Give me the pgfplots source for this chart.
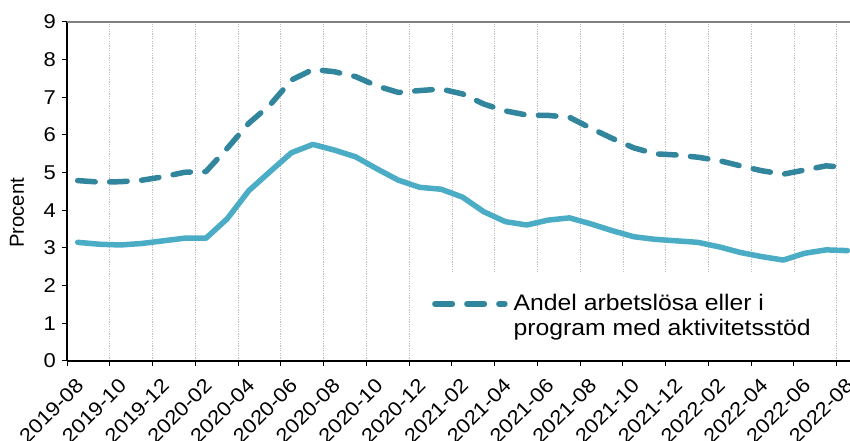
\documentclass[border=0pt]{standalone}
\usepackage{pgfplots}
\pgfplotsset{compat=1.18}
\usepackage{pgfplotstable}
\usepackage{fontspec}
\setmainfont{Liberation Sans}[FakeStretch=1.1]
\newfontfamily\plainfont{Liberation Sans}
\definecolor{lightblue}{HTML}{4BACC6}
\definecolor{darkteal}{HTML}{31859C}
\definecolor{gridgray}{HTML}{BFBFBF}

\pgfplotstableread{
x     open  total
0.5   3.15  4.79
1.5   3.10  4.75
2.5   3.08  4.76
3.5   3.12  4.80
4.5   3.19  4.89
5.5   3.26  5.01
6.5   3.26  5.03
7.5   3.78  5.65
8.5   4.52  6.31
9.5   5.03  6.80
10.5  5.53  7.46
11.5  5.75  7.74
12.5  5.60  7.68
13.5  5.42  7.55
14.5  5.10  7.30
15.5  4.80  7.13
16.5  4.61  7.18
17.5  4.56  7.22
18.5  4.35  7.09
19.5  3.96  6.82
20.5  3.70  6.64
21.5  3.61  6.53
22.5  3.74  6.52
23.5  3.80  6.47
24.5  3.64  6.18
25.5  3.46  5.91
26.5  3.30  5.66
27.5  3.23  5.50
28.5  3.19  5.47
29.5  3.15  5.41
30.5  3.03  5.32
31.5  2.88  5.18
32.5  2.77  5.05
33.5  2.68  4.96
34.5  2.86  5.07
35.5  2.95  5.18
36.5  2.93  5.14
}\datatable

\begin{document}
\begin{tikzpicture}
\begin{axis}[
  scale only axis,
  width=783bp, height=339bp,
  xmin=0, xmax=36.62, ymin=0, ymax=9,
  axis x line*=bottom, axis y line*=left,
  axis line style={line width=1.3bp, black},
  xtick={0,2,...,36},
  xticklabels={2019-08,2019-10,2019-12,2020-02,2020-04,2020-06,2020-08,2020-10,2020-12,2021-02,2021-04,2021-06,2021-08,2021-10,2021-12,2022-02,2022-04,2022-06,2022-08},
  ytick={0,1,...,9},
  tick align=outside,
  major tick length=5bp,
  tick style={line width=1bp, black},
  xmajorgrids,
  major x grid style={gridgray, line width=0.7bp, dash pattern=on 1.2bp off 1.2bp},
  tick label style={font=\fontsize{20bp}{24bp}\selectfont},
  /pgf/number format/assume math mode=true,
  yticklabel style={inner sep=0pt, xshift=-6bp},
  xticklabel style={xshift=13bp, yshift=-16bp, rotate=45, anchor=east, inner sep=0pt},
  every axis y label/.style={at={([xshift=-50bp]rel axis cs:0,0.4366)}, rotate=90, anchor=center},
  ylabel={\plainfont\fontsize{20.3bp}{24bp}\selectfont Procent},
  clip mode=individual,
  legend style={
    at={(rel axis cs:0.4444,0)}, anchor=south west, yshift=1.5bp,
    draw=none, fill=white,
    inner xsep=17bp, inner ysep=20bp,
    font=\fontsize{22.5bp}{25bp}\selectfont,
    nodes={align=left},
    column sep=4bp,
  },
  legend cell align=left,
  legend image code/.code={\draw[#1] (0bp,12bp) -- (70bp,12bp);},
  extra description/.code={
    \draw[gray, line width=1.5bp] (0,1) -- (1,1);
  },
]
\addplot[lightblue, line width=5.5bp, line join=round, line cap=round, forget plot]
  table[x=x, y=open] {\datatable};
\addplot[darkteal, line width=5.5bp, line join=round, line cap=round, dash pattern=on 17.5bp off 14.5bp]
  table[x=x, y=total] {\datatable};
\addlegendentry{Andel arbetslösa eller i\\program med aktivitetsstöd}
\coordinate (ll) at (rel axis cs:0,0);
\coordinate (ur) at (rel axis cs:1,1);
\end{axis}
\pgfresetboundingbox
\path ([shift={(-67bp,-80bp)}]ll) rectangle ([shift={(0bp,22bp)}]ur);
\end{tikzpicture}
\end{document}
